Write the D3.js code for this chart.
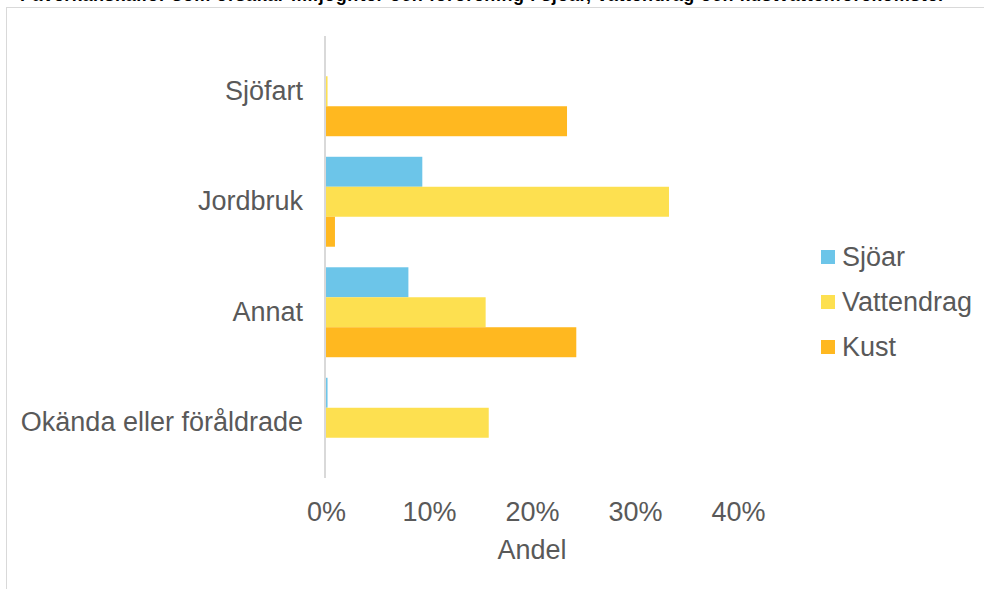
<!DOCTYPE html>
<html>
<head>
<meta charset="utf-8">
<script src="https://cdn.jsdelivr.net/npm/d3@7"></script>
<style>
  body { margin: 0; background: #fff; }
  svg { display: block; font-family: "Liberation Sans", Arial, sans-serif; }
</style>
</head>
<body>
<div class="container"></div>
<script>
const categories = ['Sjöfart', 'Jordbruk', 'Annat', 'Okända eller föråldrade'];
const series = ['Sjöar', 'Vattendrag', 'Kust'];
const colors = ['#6cc5e9', '#fde050', '#ffb820'];
// andel per kategori, en array per serie
const sjoar = [0, 0.0935, 0.080, 0.0015];
const vattendrag = [0.0015, 0.333, 0.155, 0.158];
const kust = [0.234, 0.0087, 0.243, 0];
const xTicks = [0, 0.1, 0.2, 0.3, 0.4];

const w = 984;
const h = 589;
const values = [sjoar, vattendrag, kust];
const textColor = '#595959';
const fontSize = '27px';

const svg = d3.select('.container')
    .append('svg')
    .attr('width', w)
    .attr('height', h);

svg.append('rect')
    .attr('width', w)
    .attr('height', h)
    .attr('fill', '#fff');

// rubriken är avskuren i överkanten, precis som i originalet
svg.append('text')
    .text('Påverkanskällor som orsakar miljögifter och förorening i sjöar, vattendrag och kustvattenförekomster')
    .attr('x', 20)
    .attr('y', 0.8)
    .attr('textLength', 925)
    .style('font-size', '18px')
    .style('font-weight', 'bold')
    .attr('fill', '#000');

svg.append('rect')
    .attr('x', 6.5)
    .attr('y', 7.5)
    .attr('width', w)
    .attr('height', h)
    .attr('fill', 'none')
    .attr('stroke', '#d9d9d9');

const xScale = d3.scaleLinear().domain([0, 0.4]).range([326, 738]);
const yScale = d3.scaleBand().domain(categories).range([36, 478])
    .paddingInner(0.186).paddingOuter(0.093);
const inner = d3.scaleBand().domain(series).range([0, yScale.bandwidth()]);

series.forEach((s, i) => {
    svg.append('g')
        .selectAll('rect')
        .data(categories.map((c, j) => ({ c, v: values[i][j] })))
        .join('rect')
        .attr('x', xScale(0))
        .attr('y', d => yScale(d.c) + inner(s))
        .attr('width', d => xScale(d.v) - xScale(0))
        .attr('height', inner.bandwidth())
        .attr('fill', colors[i]);
});

svg.append('line')
    .attr('x1', 325).attr('x2', 325)
    .attr('y1', 36).attr('y2', 478)
    .attr('stroke', '#d9d9d9')
    .attr('stroke-width', 2);

const yAxis = d3.axisLeft(yScale).tickSize(0).tickPadding(0);
const yg = svg.append('g')
    .attr('transform', 'translate(303, 0)')
    .call(yAxis);
yg.select('.domain').remove();
yg.selectAll('text')
    .style('font-size', fontSize)
    .style('font-family', '"Liberation Sans", Arial, sans-serif')
    .attr('fill', textColor);

const xAxis = d3.axisBottom(xScale).tickValues(xTicks).tickFormat(d3.format('.0%')).tickSize(0);
const xg = svg.append('g')
    .attr('transform', 'translate(0, 521)')
    .call(xAxis);
xg.select('.domain').remove();
xg.selectAll('text')
    .attr('y', 0)
    .attr('dy', null)
    .style('font-size', fontSize)
    .style('font-family', '"Liberation Sans", Arial, sans-serif')
    .attr('fill', textColor);

svg.append('text')
    .text('Andel')
    .attr('x', 532)
    .attr('y', 559)
    .attr('text-anchor', 'middle')
    .style('font-size', fontSize)
    .attr('fill', textColor);

const legend = svg.append('g')
    .selectAll('g')
    .data(series)
    .join('g')
    .attr('transform', (d, i) => `translate(821, ${257 + i * 45})`);
legend.append('rect')
    .attr('x', 0).attr('y', -7)
    .attr('width', 14).attr('height', 14)
    .attr('fill', (d, i) => colors[i]);
legend.append('text')
    .text(d => d)
    .attr('x', 21)
    .attr('dy', '0.35em')
    .style('font-size', fontSize)
    .attr('fill', textColor);
</script>
</body>
</html>
